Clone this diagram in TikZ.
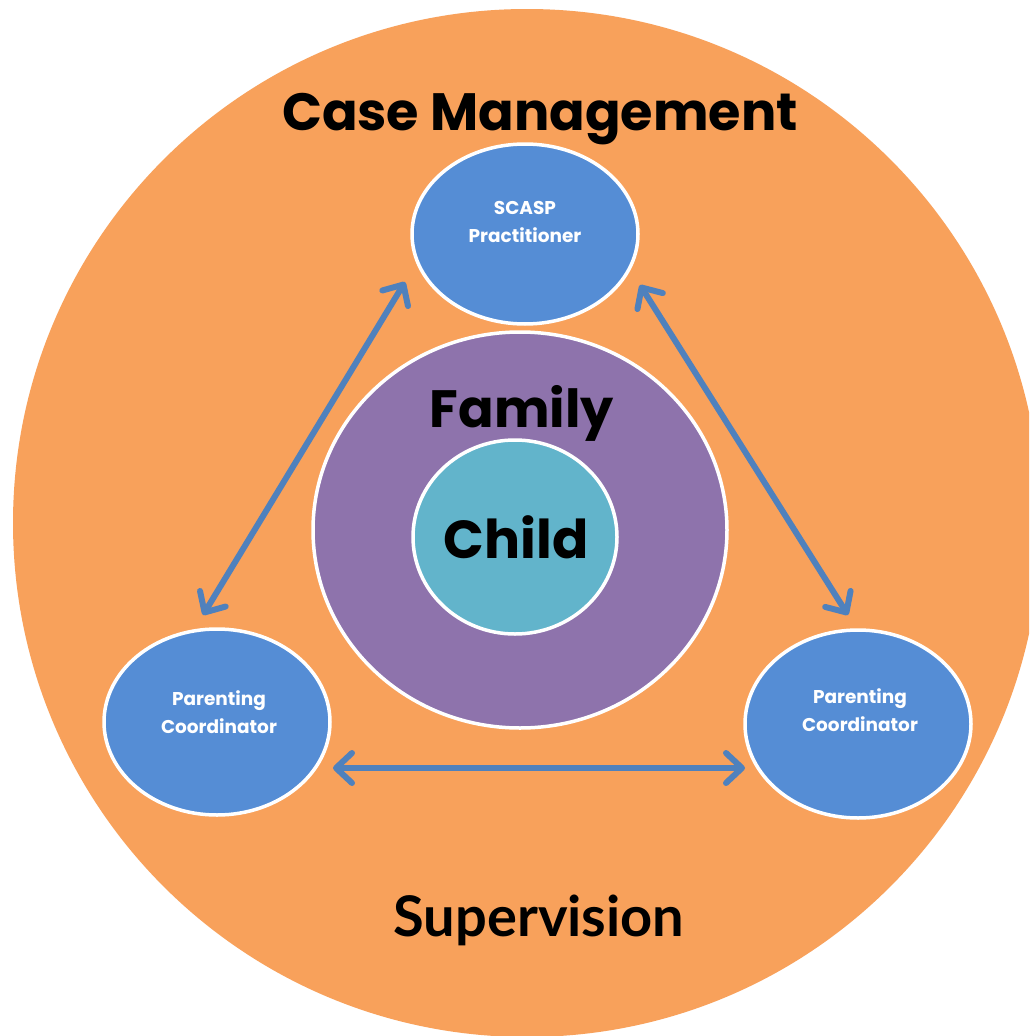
\documentclass[tikz,border=0pt]{standalone}
\usepackage{fontspec}
\usetikzlibrary{shapes.geometric,arrows.meta}
\newfontfamily\gothic{Poppins}
\newfontfamily\humanist{Lato}
\definecolor{cmOrange}{HTML}{F8A15B}
\definecolor{famPurple}{HTML}{8E73AC}
\definecolor{childTeal}{HTML}{62B4CB}
\definecolor{roleBlue}{HTML}{558DD5}
\definecolor{linkBlue}{HTML}{4F81BD}
\tikzset{
  ring/.style={ellipse, draw=white, line width=3.5pt, inner sep=0pt},
  rolebox/.style={ring, fill=roleBlue, minimum width=226pt, minimum height=180pt},
  roletext/.style={text=white, font=\gothic\bfseries\fontsize{18.5}{28}\selectfont, align=center, anchor=base},
  bigtext/.style={text=black, font=\gothic\bfseries\fontsize{52.5}{60}\selectfont, anchor=base},
  barb/.tip={Straight Barb[length=16pt, width=30pt, line width=6pt, round]},
  link/.style={draw=linkBlue, line width=6pt, line cap=round, barb-barb}
}
\begin{document}
\begin{tikzpicture}[x=1pt, y=-1pt]
  \useasboundingbox (0,0) rectangle (1029,1036);
  \fill[white] (0,0) rectangle (1029,1036);
  \clip (0,0) rectangle (1029,1036);

  % outer circle: case management / supervision
  \fill[cmOrange] (527,523) circle [radius=514];
  \node[bigtext] (cm) at (540,130) {Case Management};
  \node[bigtext, font=\humanist\bfseries\fontsize{56}{60}\selectfont] (sup) at (539,936) {Supervision};

  % family and child
  \node[ring, fill=famPurple, minimum width=414pt, minimum height=396pt] (family) at (520,530) {};
  \node[bigtext] (famlbl) at (522,427) {Family};
  \node[ring, fill=childTeal, minimum width=204pt, minimum height=194pt] (child) at (515,537) {};
  \node[bigtext, font=\gothic\bfseries\fontsize{53.5}{60}\selectfont] (childlbl) at (516,558) {Child};

  % the three roles (base anchor sits on the second line)
  \node[rolebox] (scasp) at (525,234) {};
  \node[roletext] (scasplbl) at (525,242) {SCASP\\Practitioner};
  \node[rolebox, minimum height=186pt] (pcleft) at (217,722) {};
  \node[roletext] (pcleftlbl) at (219,733) {Parenting\\Coordinator};
  \node[rolebox, minimum height=188pt] (pcright) at (858,724) {};
  \node[roletext] (pcrightlbl) at (860,731) {Parenting\\Coordinator};

  % arrow ends next to each role
  \coordinate (sL) at (405,282);
  \coordinate (lT) at (203,615);
  \coordinate (sR) at (640,285);
  \coordinate (rT) at (848,615);
  \coordinate (lR) at (333,768);
  \coordinate (rL) at (745,768);

  \draw[link] (sL) -- (lT);
  \draw[link] (sR) -- (rT);
  \draw[link] (lR) -- (rL);
\end{tikzpicture}
\end{document}
